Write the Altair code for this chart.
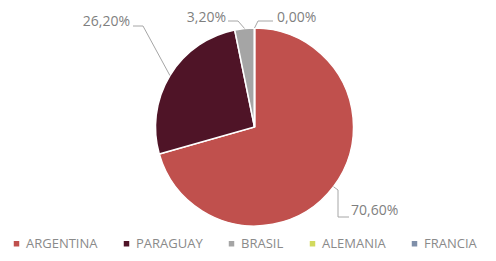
import altair as alt
import numpy as np
import pandas as pd

# ---- data ----
countries = ["ARGENTINA", "PARAGUAY", "BRASIL", "ALEMANIA", "FRANCIA"]
shares = [70.6, 26.2, 3.2, 0.0, 0.0]
colors = ["#C0504D", "#4F1427", "#A5A5A5", "#D2DA5E", "#7F8FA9"]
labelled = ["ARGENTINA", "PARAGUAY", "BRASIL", "ALEMANIA"]

# ---- layout (view pixels) ----
W, H = 480, 245
CX, CY, R = 246.5, 119.0, 99.0
FONT = "Open Sans"
label_layout = {
    "ARGENTINA": dict(tx=343, ty=203, align="left", bends=[(330, 182), (330, 209), (341, 209)]),
    "PARAGUAY": dict(tx=122, ty=14, align="right", bends=[(135, 18), (125, 18)]),
    "BRASIL": dict(tx=218, ty=10, align="right", bends=[(230, 13), (220, 13)]),
    "ALEMANIA": dict(tx=269, ty=10, align="left", bends=[(250, 13), (265, 13)]),
}

df = pd.DataFrame({"country": countries, "share": shares, "idx": range(len(countries))})
total = sum(shares)
cum = np.cumsum(shares)
mid_angle = {c: 2 * np.pi * (cum[i] - shares[i] / 2) / total for i, c in enumerate(countries)}

line_rows, text_rows = [], []
for c in labelled:
    a = mid_angle[c]
    ex, ey = CX + R * np.sin(a), CY - R * np.cos(a)
    pts = [(ex, ey)] + label_layout[c]["bends"]
    for k, (px, py) in enumerate(pts):
        line_rows.append({"country": c, "seq": k, "px": px, "py": py})
    v = shares[countries.index(c)]
    text_rows.append({"country": c, "tx": label_layout[c]["tx"], "ty": label_layout[c]["ty"],
                      "align": label_layout[c]["align"],
                      "label": f"{v:.2f}".replace(".", ",") + "%"})
lines = pd.DataFrame(line_rows)
texts = pd.DataFrame(text_rows)

xs = alt.Scale(domain=[0, W], nice=False, zero=False)
ys = alt.Scale(domain=[0, H], nice=False, zero=False, reverse=True)

pie = alt.Chart(df).mark_arc(outerRadius=R, stroke="white", strokeWidth=1.5).encode(
    theta=alt.Theta("share:Q", stack=True),
    order=alt.Order("idx:Q"),
    color=alt.Color(
        "country:N",
        scale=alt.Scale(domain=countries, range=colors),
        sort=countries,
        legend=alt.Legend(
            title=None, orient="none", legendX=2, legendY=229, direction="horizontal",
            columns=5, columnPadding=22, symbolType="square", symbolSize=30,
            symbolStrokeWidth=0, labelFont=FONT, labelFontSize=13, labelColor="#8a8a8a",
            labelOffset=3,
        ),
    ),
    x=alt.value(CX),
    y=alt.value(CY),
)

leaders = alt.Chart(lines).mark_line(color="#A6A6A6", strokeWidth=1).encode(
    x=alt.X("px:Q", scale=xs, axis=None),
    y=alt.Y("py:Q", scale=ys, axis=None),
    detail="country:N",
    order="seq:Q",
)

def label_layer(al):
    return alt.Chart(texts).transform_filter(alt.datum.align == al).mark_text(
        align=al, baseline="middle", font=FONT, fontSize=14, color="#7F7F7F"
    ).encode(
        x=alt.X("tx:Q", scale=xs, axis=None),
        y=alt.Y("ty:Q", scale=ys, axis=None),
        text="label:N",
    )

chart = alt.layer(pie, leaders, label_layer("left"), label_layer("right")).properties(
    width=W, height=H, padding=0, autosize=alt.AutoSizeParams(type="none")
).configure_view(stroke=None)

chart.save("out.html", embed_options={"renderer": "svg", "actions": False})
